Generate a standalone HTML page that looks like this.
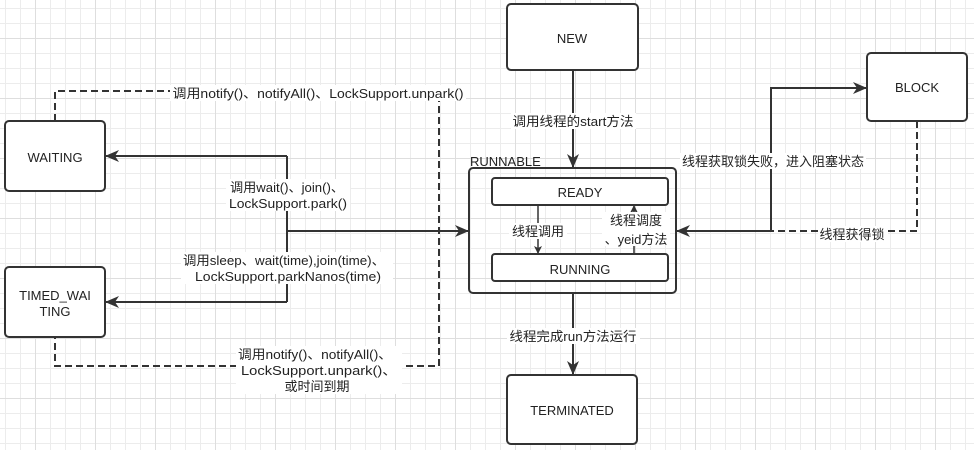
<!DOCTYPE html>
<html><head><meta charset="utf-8"><style>
html,body{margin:0;padding:0;background:#fff;}
svg{display:block;}
text{font-family:"Liberation Sans","Noto Sans CJK SC",sans-serif;font-size:13px;fill:#222;}
</style></head><body>
<svg width="974" height="450" viewBox="0 0 974 450" xmlns="http://www.w3.org/2000/svg">
<defs>
<pattern id="g" x="5" y="8" width="15" height="15" patternUnits="userSpaceOnUse">
<path d="M0 0.5H15M0.5 0V15" stroke="#ececec" stroke-width="1" fill="none"/>
</pattern>
<pattern id="G" x="35" y="38" width="60" height="60" patternUnits="userSpaceOnUse">
<path d="M0 0.5H60M0.5 0V60" stroke="#dedede" stroke-width="1" fill="none"/>
</pattern>
<marker id="a" markerWidth="14" markerHeight="12" refX="13" refY="6" orient="auto" markerUnits="userSpaceOnUse">
<path d="M0 0L14 6L0 12L4 6Z" fill="#333"/>
</marker>
<marker id="s" markerWidth="8" markerHeight="8" refX="7" refY="4" orient="auto" markerUnits="userSpaceOnUse">
<path d="M0 0L8 4L0 8L2 4Z" fill="#333"/>
</marker>
</defs>
<rect width="974" height="450" fill="url(#g)"/>
<rect width="974" height="450" fill="url(#G)"/>
<g fill="none" stroke="#333" stroke-width="2">
<path d="M55 121V91H439V366H55V337" stroke-dasharray="7,4"/>
<path d="M917 121V231H771" stroke-dasharray="7,4"/>
<path d="M573 70V167" marker-end="url(#a)"/>
<path d="M573 293V374" marker-end="url(#a)"/>
<path d="M771 231V88H866" marker-end="url(#a)"/>
<path d="M771 231H677" marker-end="url(#a)"/>
<path d="M287 231H468" marker-end="url(#a)"/>
<path d="M287 156V302"/>
<path d="M287 156H106" marker-end="url(#a)"/>
<path d="M287 302H106" marker-end="url(#a)"/>
<path d="M538 205V253" stroke-width="1.5" marker-end="url(#s)"/>
<path d="M634 254V206" stroke-width="1.5" marker-end="url(#s)"/>
</g>
<g fill="#fff" stroke="#333" stroke-width="2">
<rect x="507" y="4" width="131" height="66" rx="4"/>
<rect x="867" y="53" width="100" height="68" rx="4"/>
<rect x="5" y="121" width="100" height="70" rx="4"/>
<rect x="5" y="267" width="100" height="70" rx="4"/>
<rect x="507" y="375" width="130" height="69" rx="4"/>
<rect x="469" y="168" width="207" height="125" rx="4" fill="none"/>
<rect x="492" y="178" width="176" height="27" rx="3"/>
<rect x="492" y="254" width="176" height="27" rx="3"/>
</g>
<g fill="#fff">
<rect x="511" y="113" width="125" height="16"/>
<rect x="170" y="85" width="296" height="16"/>
<rect x="226" y="179" width="124" height="32"/>
<rect x="181" y="252" width="212" height="32"/>
<rect x="236" y="346" width="166" height="48"/>
<rect x="507" y="328" width="133" height="16"/>
<rect x="680" y="153" width="186" height="16"/>
<rect x="818" y="226" width="70" height="16"/>
<rect x="509" y="223" width="58" height="16"/>
<rect x="602" y="212" width="68" height="34"/>
</g>
<g text-anchor="middle">
<text x="572" y="43">NEW</text>
<text x="917" y="92">BLOCK</text>
<text x="55" y="162">WAITING</text>
<text x="55" y="300">TIMED_WAI</text>
<text x="55" y="316">TING</text>
<text x="572" y="415">TERMINATED</text>
<text x="580" y="197">READY</text>
<text x="580" y="274">RUNNING</text>
<text x="573" y="126" textLength="121" lengthAdjust="spacingAndGlyphs">调用线程的start方法</text>
<text x="318" y="98" textLength="291" lengthAdjust="spacingAndGlyphs">调用notify()、notifyAll()、LockSupport.unpark()</text>
<text x="287" y="192" textLength="114" lengthAdjust="spacingAndGlyphs">调用wait()、join()、</text>
<text x="288" y="208" textLength="118" lengthAdjust="spacingAndGlyphs">LockSupport.park()</text>
<text x="284" y="265" textLength="202" lengthAdjust="spacingAndGlyphs">调用sleep、wait(time),join(time)、</text>
<text x="288" y="281" textLength="186" lengthAdjust="spacingAndGlyphs">LockSupport.parkNanos(time)</text>
<text x="315" y="359" textLength="154" lengthAdjust="spacingAndGlyphs">调用notify()、notifyAll()、</text>
<text x="319" y="375" textLength="156" lengthAdjust="spacingAndGlyphs">LockSupport.unpark()、</text>
<text x="317" y="391">或时间到期</text>
<text x="573" y="341" textLength="127" lengthAdjust="spacingAndGlyphs">线程完成run方法运行</text>
<text x="773" y="166" textLength="182" lengthAdjust="spacingAndGlyphs">线程获取锁失败，进入阻塞状态</text>
<text x="852" y="239">线程获得锁</text>
<text x="538" y="236">线程调用</text>
<text x="636" y="225">线程调度</text>
<text x="636" y="244">、yeid方法</text>
</g>
<text x="470" y="166">RUNNABLE</text>
</svg>
</body></html>
